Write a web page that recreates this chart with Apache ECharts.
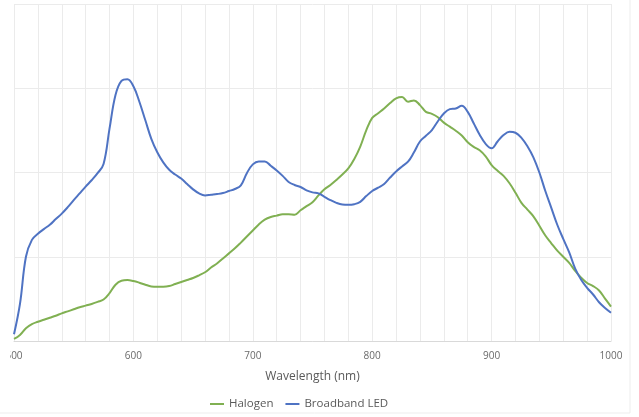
<!DOCTYPE html>
<html>
<head>
<meta charset="utf-8">
<script src="https://cdn.jsdelivr.net/npm/echarts@6/dist/echarts.min.js"></script>
<style>
  html, body { margin: 0; padding: 0; background: #ffffff; }
  #chart { width: 639px; height: 417px; }
</style>
</head>
<body>
<div id="chart"></div>
<script>
// Wavelength samples (nm), every 5 nm from 500 to 1000
const wavelengths = [];
for (let w = 500; w <= 1000; w += 5) wavelengths.push(w);

// Relative spectral intensity of the halogen lamp
const halogen = [
  0.006, 0.018, 0.038, 0.050, 0.057, 0.063, 0.069, 0.075, 0.082, 0.088,
  0.094, 0.100, 0.105, 0.110, 0.116, 0.123, 0.142, 0.167, 0.179, 0.181,
  0.178, 0.173, 0.167, 0.162, 0.161, 0.161, 0.163, 0.169, 0.175, 0.181,
  0.187, 0.195, 0.204, 0.218, 0.230, 0.245, 0.260, 0.275, 0.292, 0.310,
  0.328, 0.346, 0.360, 0.368, 0.372, 0.376, 0.376, 0.375, 0.388, 0.400,
  0.412, 0.432, 0.450, 0.463, 0.478, 0.494, 0.512, 0.540, 0.577, 0.625,
  0.662, 0.676, 0.690, 0.706, 0.720, 0.724, 0.710, 0.714, 0.700, 0.680,
  0.674, 0.664, 0.648, 0.636, 0.624, 0.610, 0.590, 0.576, 0.566, 0.548,
  0.522, 0.505, 0.490, 0.468, 0.440, 0.410, 0.390, 0.370, 0.342, 0.313,
  0.290, 0.268, 0.250, 0.232, 0.208, 0.188, 0.172, 0.163, 0.150, 0.126,
  0.102
];

// Relative spectral intensity of the broadband LED
const broadbandLed = [
  0.020, 0.110, 0.250, 0.300, 0.318, 0.332, 0.345, 0.362, 0.378, 0.397,
  0.418, 0.438, 0.458, 0.477, 0.498, 0.525, 0.630, 0.730, 0.772, 0.777,
  0.756, 0.710, 0.655, 0.600, 0.560, 0.530, 0.508, 0.494, 0.482, 0.466,
  0.450, 0.438, 0.432, 0.434, 0.436, 0.439, 0.445, 0.451, 0.462, 0.498,
  0.524, 0.533, 0.533, 0.520, 0.506, 0.490, 0.472, 0.463, 0.457, 0.447,
  0.441, 0.438, 0.428, 0.418, 0.410, 0.405, 0.404, 0.406, 0.413, 0.430,
  0.445, 0.455, 0.466, 0.485, 0.503, 0.518, 0.532, 0.560, 0.592, 0.609,
  0.626, 0.652, 0.675, 0.688, 0.690, 0.698, 0.680, 0.646, 0.612, 0.585,
  0.572, 0.592, 0.611, 0.621, 0.618, 0.603, 0.578, 0.545, 0.500, 0.445,
  0.395, 0.345, 0.303, 0.263, 0.215, 0.182, 0.158, 0.138, 0.115, 0.098,
  0.084
];

const seriesNames = ['Halogen', 'Broadband LED'];
const xLabels = [500, 600, 700, 800, 900, 1000];
const axisTitle = 'Wavelength (nm)';

const toPairs = vals => wavelengths.map((w, i) => [w, vals[i]]);

const chart = echarts.init(document.getElementById('chart'), null, { renderer: 'canvas' });
const font = '"Open Sans", "DejaVu Sans", sans-serif';

chart.setOption({
  animation: false,
  backgroundColor: '#ffffff',
  textStyle: { fontFamily: font },
  grid: { left: 14, right: 28, top: 4, bottom: 76, containLabel: false },
  graphic: [
    {
      // light frame round the chart area
      type: 'rect',
      shape: { x: -1, y: -1, width: 631, height: 414 },
      style: { fill: 'none', stroke: '#ededed', lineWidth: 1 },
      silent: true,
      z: -1
    },
    {
      // trimmed left margin: the first tick label runs off the edge
      type: 'rect',
      shape: { x: 0, y: 344, width: 10, height: 24 },
      style: { fill: '#ffffff' },
      silent: true,
      z: 100
    }
  ],
  xAxis: {
    type: 'value',
    min: 500,
    max: 1000,
    interval: 20,
    name: axisTitle,
    nameLocation: 'middle',
    nameGap: 30,
    nameTextStyle: { color: '#595959', fontSize: 12, fontFamily: font },
    axisLine: { show: true, lineStyle: { color: '#d9d9d9', width: 1 } },
    axisTick: { show: false },
    axisLabel: {
      color: '#6a6a6a',
      fontSize: 10,
      margin: 10,
      fontFamily: font,
      formatter: v => (xLabels.indexOf(v) >= 0 ? String(v) : '')
    },
    splitLine: { show: true, lineStyle: { color: '#ebebeb', width: 1 } }
  },
  yAxis: {
    type: 'value',
    min: 0,
    max: 1,
    interval: 0.25,
    axisLine: { show: false },
    axisTick: { show: false },
    axisLabel: { show: false },
    splitLine: { show: true, lineStyle: { color: '#ebebeb', width: 1 } }
  },
  legend: {
    top: 393,
    left: 205,
    icon: 'rect',
    itemWidth: 14,
    itemHeight: 2,
    itemGap: 12,
    textStyle: { color: '#595959', fontSize: 11.5, fontFamily: font },
    data: seriesNames
  },
  series: [
    {
      name: seriesNames[0],
      type: 'line',
      data: toPairs(halogen),
      smooth: 0.4,
      showSymbol: false,
      lineStyle: { color: '#80b052', width: 2 },
      itemStyle: { color: '#80b052' }
    },
    {
      name: seriesNames[1],
      type: 'line',
      data: toPairs(broadbandLed),
      smooth: 0.4,
      showSymbol: false,
      lineStyle: { color: '#4f73c3', width: 2 },
      itemStyle: { color: '#4f73c3' }
    }
  ]
});
</script>
</body>
</html>
